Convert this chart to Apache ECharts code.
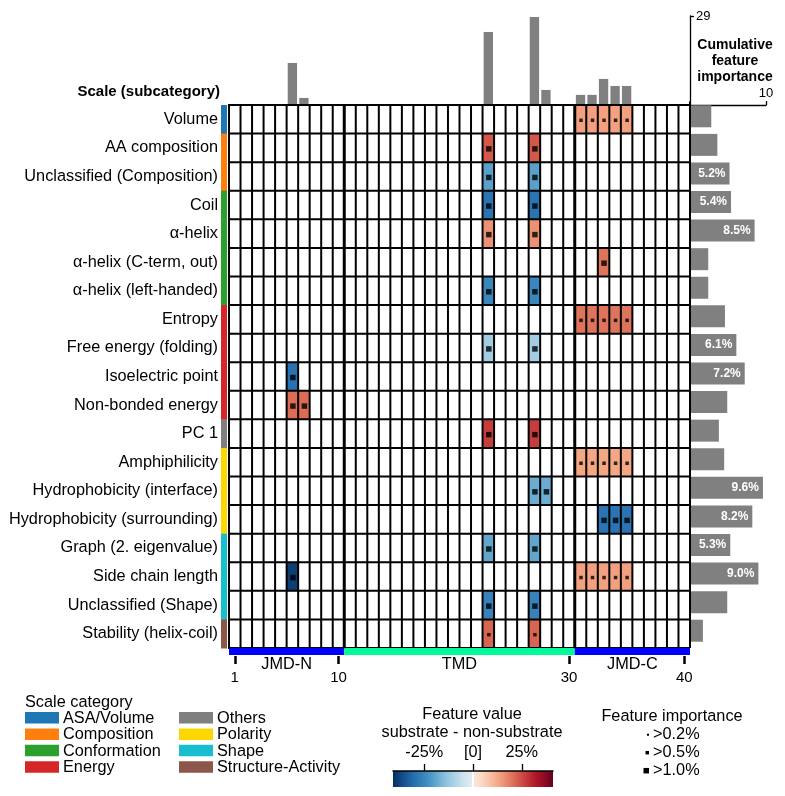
<!DOCTYPE html>
<html><head><meta charset="utf-8">
<script src="https://cdn.jsdelivr.net/npm/echarts@6/dist/echarts.min.js"></script>
<style>html,body{margin:0;padding:0;background:#fff}#c{width:785px;height:796px}</style>
</head><body><div id="c"></div>
<script>
// ---------------- DATA ----------------
const positions = ['1','2','3','4','5','6','7','8','9','10','11','12','13','14','15','16','17','18','19','20',
  '21','22','23','24','25','26','27','28','29','30','31','32','33','34','35','36','37','38','39','40'];
const scales = ['Volume','AA composition','Unclassified (Composition)','Coil','α-helix','α-helix (C-term, out)',
  'α-helix (left-handed)','Entropy','Free energy (folding)','Isoelectric point','Non-bonded energy','PC 1',
  'Amphiphilicity','Hydrophobicity (interface)','Hydrophobicity (surrounding)','Graph (2. eigenvalue)',
  'Side chain length','Unclassified (Shape)','Stability (helix-coil)'];
const scaleCategory = ['ASA/Volume','Composition','Composition','Conformation','Conformation','Conformation',
  'Conformation','Energy','Energy','Energy','Energy','Others','Polarity','Polarity','Polarity','Shape','Shape',
  'Shape','Structure-Activity'];
const categoryNames = ['ASA/Volume','Composition','Conformation','Energy','Others','Polarity','Shape','Structure-Activity'];
const scaleImportance = [2.8,3.6,5.2,5.4,8.5,2.4,2.4,4.6,6.1,7.2,4.9,3.8,4.5,9.6,8.2,5.3,9.0,4.9,1.7];
const cumPositions = ['6','7','23','27','28','31','32','33','34','35'];
const cumImportance = [13.7,2.3,23.8,28.7,4.9,3.3,3.3,8.5,6.2,6.2];
const featScale = ['Volume','AA composition','Unclassified (Composition)','Coil','α-helix','α-helix (C-term, out)',
  'α-helix (left-handed)','Entropy','Free energy (folding)','Isoelectric point','Non-bonded energy','PC 1',
  'Amphiphilicity','Hydrophobicity (interface)','Hydrophobicity (surrounding)','Graph (2. eigenvalue)',
  'Side chain length','Side chain length','Unclassified (Shape)','Stability (helix-coil)'];
const featPositions = [[31,32,33,34,35],[23,27],[23,27],[23,27],[23,27],[33],[23,27],[31,32,33,34,35],[23,27],
  [6],[6,7],[23,27],[31,32,33,34,35],[27,28],[33,34,35],[23,27],[6],[31,32,33,34,35],[23,27],[23,27]];
const featMeanDif = [14,23.5,-20,-29,16,20,-25,20,-11,-29.5,21,27,13,-18,-29,-19,-38.5,14,-26,22];
const featImportance = ['>0.5%','>1.0%','>1.0%','>1.0%','>1.0%','>1.0%','>1.0%','>0.5%','>1.0%','>1.0%','>1.0%',
  '>1.0%','>0.5%','>1.0%','>1.0%','>1.0%','>1.0%','>0.5%','>1.0%','>0.5%'];
const segNames = ['JMD-N','TMD','JMD-C'];
const segStart = [1,11,31];
const segEnd = [10,30,40];
const posTicks = ['1','10','30','40'];
const valueTicks = [-25,0,25];
const valueTickLabels = ['-25%','[0]','25%'];
const impLegend = ['>0.2%','>0.5%','>1.0%'];
const valueMin = -41, valueMax = 41;
const cumMax = 29, scaleImpMax = 10;

// ---------------- STYLE ----------------
const FONT = 'Liberation Sans, Arial, sans-serif';
const catColor = {'ASA/Volume':'#1f77b4','Composition':'#ff7f0e','Conformation':'#2ca02c','Energy':'#d62728',
  'Others':'#7f7f7f','Polarity':'#ffd700','Shape':'#17becf','Structure-Activity':'#8c564b'};
const segColor = {'JMD-N':'#0000ff','TMD':'#00fa9a','JMD-C':'#0000ff'};
const markerSize = {'>0.2%':2,'>0.5%':3.5,'>1.0%':5.5};
// RdBu_r with the white middle removed (CPP colormap)
const rdbu = ['#053061','#2166ac','#4393c3','#92c5de','#d1e5f0','#f7f7f7','#fddbc7','#f4a582','#d6604d','#b2182b','#67001f'];
function hex2rgb(h){return [parseInt(h.substr(1,2),16),parseInt(h.substr(3,2),16),parseInt(h.substr(5,2),16)];}
function sampleRdBu(p){
  const f = p*10, i = Math.min(9, Math.floor(f)), t = f - i;
  const a = hex2rgb(rdbu[i]), b = hex2rgb(rdbu[i+1]);
  return 'rgb(' + a.map((v,k)=>Math.round(v+(b[k]-v)*t)).join(',') + ')';
}
function cmapAt(t){ // t in [0,1]
  const p = t < 0.5 ? t*0.89 : 0.555 + (t-0.5)*0.89;
  return sampleRdBu(Math.max(0,Math.min(1,p)));
}
const NC = 42;
const cmap = [];
for (let k=0;k<NC;k++) cmap.push(cmapAt(k/(NC-1)));

// ---------------- BUILD ----------------
const heatData = [], markData = [];
featScale.forEach((s,i)=>{
  featPositions[i].forEach(p=>{
    heatData.push([String(p), s, featMeanDif[i]]);
    markData.push([String(p), s, featImportance[i]]);
  });
});
const cumData = cumPositions.map((p,i)=>[p, cumImportance[i]]);
const tickSet = new Set(posTicks);

const legendGraphics = [];
legendGraphics.push({type:'text', x:25, y:703, style:{text:'Scale category', font:'16.3px '+FONT, fill:'#000', textVerticalAlign:'middle'}});
categoryNames.forEach((n,i)=>{
  const col = Math.floor(i/4), row = i%4;
  const x = col===0 ? 25 : 179, y = 712 + row*16.4;
  legendGraphics.push({type:'rect', shape:{x:x, y:y, width:34, height:11.5}, style:{fill:catColor[n]}});
  legendGraphics.push({type:'text', x:x+38, y:y+6.5, style:{text:n, font:'16.3px '+FONT, fill:'#000', textVerticalAlign:'middle'}});
});
legendGraphics.push({type:'text', x:472, y:715, style:{text:'Feature value', font:'16.3px '+FONT, fill:'#000', textAlign:'center', textVerticalAlign:'middle'}});
legendGraphics.push({type:'text', x:472, y:733, style:{text:'substrate - non-substrate', font:'16.3px '+FONT, fill:'#000', textAlign:'center', textVerticalAlign:'middle'}});
legendGraphics.push({type:'text', x:672, y:717, style:{text:'Feature importance', font:'16.3px '+FONT, fill:'#000', textAlign:'center', textVerticalAlign:'middle'}});
impLegend.forEach((n,i)=>{
  const cy = 734.7 + i*18, s = markerSize[n];
  legendGraphics.push({type:'rect', shape:{x:649-s, y:cy-s/2, width:s, height:s}, style:{fill:'#000'}});
  legendGraphics.push({type:'text', x:653, y:cy, style:{text:n, font:'16.3px '+FONT, fill:'#000', textVerticalAlign:'middle'}});
});
legendGraphics.push({type:'text', x:220, y:92, style:{text:'Scale (subcategory)', font:'bold 15px '+FONT, fill:'#000', textAlign:'right', textVerticalAlign:'middle'}});
['Cumulative','feature','importance'].forEach((t,i)=>{
  legendGraphics.push({type:'text', x:735, y:45+i*16, style:{text:t, font:'bold 14px '+FONT, fill:'#000', textAlign:'center', textVerticalAlign:'middle'}});
});

const option = {
  animation:false,
  backgroundColor:'#fff',
  textStyle:{fontFamily:FONT},
  grid:[
    {left:229, top:105, width:461, height:543},
    {left:229, top:16, width:461, height:89},
    {left:690, top:102, width:76, height:543},
    {left:393, top:771, width:160, height:16}
  ],
  xAxis:[
    {gridIndex:0, type:'category', data:positions, position:'bottom', offset:8,
      axisLine:{show:false},
      axisTick:{show:true, alignWithLabel:true, length:8, interval:(i,v)=>tickSet.has(v), lineStyle:{color:'#000', width:2.5}},
      axisLabel:{interval:(i,v)=>tickSet.has(v), fontSize:15, color:'#000', margin:14},
      splitLine:{show:false}},
    {gridIndex:1, type:'category', data:positions, show:false},
    {gridIndex:2, type:'value', min:0, max:scaleImpMax, position:'top', offset:-3,
      axisLine:{show:true, onZero:false, lineStyle:{color:'#000', width:1.3}},
      axisTick:{show:true, customValues:[scaleImpMax], length:4, lineStyle:{color:'#000', width:1.3}},
      axisLabel:{show:true, customValues:[scaleImpMax], fontSize:13, color:'#000', margin:5},
      splitLine:{show:false}},
    {gridIndex:3, type:'value', min:valueMin, max:valueMax, position:'top',
      axisLine:{show:true, onZero:false, lineStyle:{color:'#000', width:1.5}},
      axisTick:{show:true, customValues:valueTicks, length:7, lineStyle:{color:'#000', width:1.3}},
      axisLabel:{show:true, customValues:valueTicks, fontSize:16.3, color:'#000', margin:10,
        formatter:(v)=>valueTickLabels[valueTicks.indexOf(v)]},
      splitLine:{show:false}, z:5}
  ],
  yAxis:[
    {gridIndex:0, type:'category', data:scales, inverse:true,
      axisLine:{show:false}, axisTick:{show:false},
      axisLabel:{fontSize:16.3, color:'#000', margin:11}, splitLine:{show:false}},
    {gridIndex:1, type:'value', min:0, max:cumMax, position:'right',
      axisLine:{show:true, onZero:false, lineStyle:{color:'#000', width:1.3}},
      axisTick:{show:true, customValues:[cumMax], length:4, lineStyle:{color:'#000', width:1.3}},
      axisLabel:{show:true, customValues:[cumMax], fontSize:13, color:'#000', margin:6},
      splitLine:{show:false}},
    {gridIndex:2, type:'category', data:scales, inverse:true,
      axisLine:{show:true, lineStyle:{color:'#000', width:2}}, axisTick:{show:false},
      axisLabel:{show:false}, splitLine:{show:false}},
    {gridIndex:3, type:'value', min:0, max:1, show:false}
  ],
  visualMap:{type:'continuous', show:false, min:valueMin, max:valueMax, dimension:2, seriesIndex:0,
    inRange:{color:cmap}},
  series:[
    {type:'heatmap', xAxisIndex:0, yAxisIndex:0, data:heatData, z:2},
    {type:'custom', xAxisIndex:0, yAxisIndex:0, z:3, silent:true, data:[[0,0]],
      renderItem:function(params, api){
        const c0 = api.coord([0,0]), sz = api.size([1,1]);
        const w = sz[0], h = sz[1];
        const left = c0[0]-w/2, top = c0[1]-h/2;
        const nx = positions.length, ny = scales.length;
        const right = left+nx*w, bottom = top+ny*h;
        const ch = [];
        for (let i=0;i<=ny;i++){ const y = top+i*h;
          ch.push({type:'line', shape:{x1:left-1,y1:y,x2:right,y2:y}, style:{stroke:'#000', lineWidth:2}}); }
        for (let i=0;i<=nx;i++){ const x = left+i*w; const thick = (i===segEnd[0]||i===segEnd[1]);
          ch.push({type:'line', shape:{x1:x,y1:top,x2:x,y2:bottom}, style:{stroke:'#000', lineWidth:thick?3:2}}); }
        return {type:'group', children:ch};
      }},
    {type:'custom', xAxisIndex:0, yAxisIndex:0, z:3, silent:true, clip:false,
      data:scales.map((s,i)=>[0,i]),
      renderItem:function(params, api){
        const c = api.coord([0, api.value(1)]), sz = api.size([1,1]);
        const left = c[0]-sz[0]/2;
        return {type:'rect', shape:{x:left-8, y:c[1]-sz[1]/2, width:6, height:sz[1]+0.5},
          style:{fill:catColor[scaleCategory[params.dataIndex]]}};
      }},
    {type:'custom', xAxisIndex:0, yAxisIndex:0, z:3, silent:true, clip:false,
      data:segStart.map((s,i)=>[s-1, segEnd[i]-1]),
      renderItem:function(params, api){
        const last = scales.length-1;
        const a = api.coord([api.value(0), last]), b = api.coord([api.value(1), last]), sz = api.size([1,1]);
        const x0 = a[0]-sz[0]/2, x1 = b[0]+sz[0]/2, y0 = a[1]+sz[1]/2;
        const name = segNames[params.dataIndex];
        return {type:'group', children:[
          {type:'rect', shape:{x:x0, y:y0, width:x1-x0, height:7}, style:{fill:segColor[name]}},
          {type:'text', x:(x0+x1)/2, y:y0+17, style:{text:name, font:'16.3px '+FONT, fill:'#000', textAlign:'center', textVerticalAlign:'middle'}}
        ]};
      }},
    {type:'scatter', xAxisIndex:0, yAxisIndex:0, z:4, silent:true, symbol:'rect',
      symbolSize:(v)=>markerSize[v[2]], symbolOffset:[0.5,1], itemStyle:{color:'#000'}, data:markData},
    {type:'bar', xAxisIndex:1, yAxisIndex:1, data:cumData, barWidth:'81%', itemStyle:{color:'#808080'}, silent:true},
    {type:'bar', xAxisIndex:2, yAxisIndex:2, data:scaleImportance, barWidth:22, itemStyle:{color:'#808080'}, silent:true,
      label:{show:true, position:'insideRight', distance:4, color:'#fff', fontWeight:'bold', fontSize:12,
        formatter:(p)=>p.value>=5 ? p.value.toFixed(1)+'%' : ''}},
    {type:'custom', xAxisIndex:3, yAxisIndex:3, z:1, silent:true, clip:false, data:[[0,0]],
      renderItem:function(params, api){
        const l = api.coord([valueMin,1]), r = api.coord([valueMax,0]), z = api.coord([0,1]);
        const stops = cmap.map((c,k)=>({offset:k/(cmap.length-1), color:c}));
        return {type:'group', children:[
          {type:'rect', shape:{x:l[0], y:l[1], width:r[0]-l[0], height:r[1]-l[1]},
            style:{fill:new echarts.graphic.LinearGradient(0,0,1,0,stops)}},
          {type:'rect', shape:{x:z[0]-1, y:l[1]+1, width:2, height:r[1]-l[1]-1}, style:{fill:'#fff'}}
        ]};
      }}
  ],
  graphic:legendGraphics
};
const chart = echarts.init(document.getElementById('c'));
chart.setOption(option);
</script></body></html>
